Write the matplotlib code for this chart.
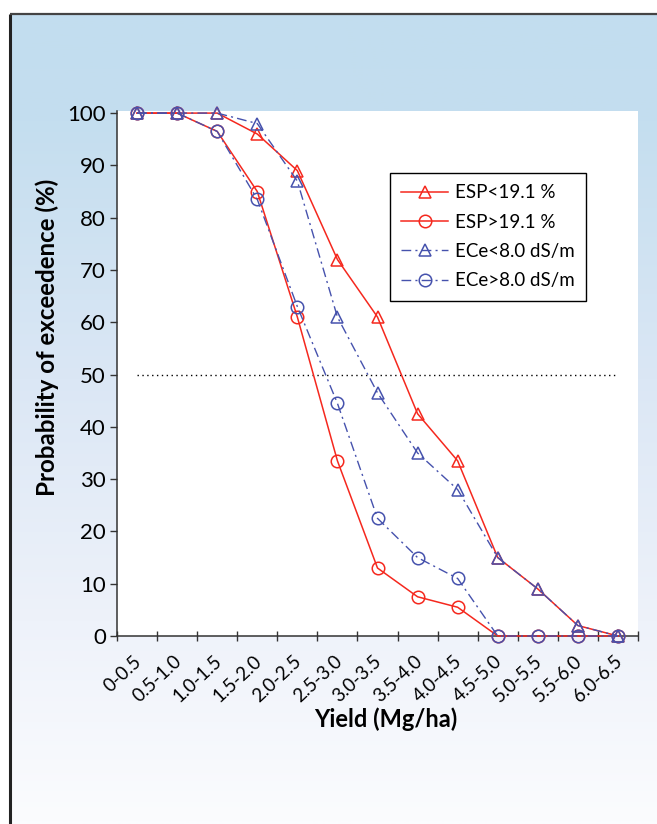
import numpy as np
import matplotlib
matplotlib.use("Agg")
import matplotlib.pyplot as plt
from matplotlib.colors import LinearSegmentedColormap
from matplotlib.transforms import ScaledTranslation

categories = ["0-0.5", "0.5-1.0", "1.0-1.5", "1.5-2.0", "2.0-2.5", "2.5-3.0", "3.0-3.5",
              "3.5-4.0", "4.0-4.5", "4.5-5.0", "5.0-5.5", "5.5-6.0", "6.0-6.5"]
esp_low = [100, 100, 100, 96, 89, 72, 61, 42.5, 33.5, 15, 9, 2, 0]
esp_high = [100, 100, 96.5, 85, 61, 33.5, 13, 7.5, 5.5, 0, 0, 0, 0]
ece_low = [100, 100, 100, 98, 87, 61, 46.5, 35, 28, 15, 9, 2, 0]
ece_high = [100, 100, 96.5, 83.5, 63, 44.5, 22.5, 15, 11, 0, 0, 0, 0]
threshold = 50
yticks = [0, 10, 20, 30, 40, 50, 60, 70, 80, 90, 100]

W, H = 657, 824
fig = plt.figure(figsize=(W / 100, H / 100), dpi=100)
fig.patch.set_facecolor("white")

# background panel with vertical gradient
bg = fig.add_axes([0, 0, 1, 1])
bg.set_xlim(0, W)
bg.set_ylim(H, 0)
bg.axis("off")
cmap = LinearSegmentedColormap.from_list(
    "bg", [(0.0, "#c2ddef"), (0.13, "#c4deef"), (0.45, "#dbe7f5"), (0.75, "#eef2fa"), (1.0, "#fbfcfe")])
grad = np.linspace(0, 1, 400).reshape(-1, 1)
bg.imshow(grad, cmap=cmap, extent=[10, W, H, 14], aspect="auto", zorder=0)
bg.plot([10, 10], [H, 14], color="#222222", lw=2.2, zorder=2, solid_capstyle="butt")
bg.plot([10, W], [14, 14], color="#444444", lw=1.6, zorder=2, solid_capstyle="butt")

font = "Lato"
plt.rcParams["font.family"] = [font, "DejaVu Sans"]

ax_l, ax_r, ax_t, ax_b = 117, 638, 111, 636
ax = fig.add_axes([ax_l / W, (H - ax_b) / H, (ax_r - ax_l) / W, (ax_b - ax_t) / H])
ax.set_facecolor("white")
x = np.arange(len(categories)) + 0.5

red = "#f5281e"
blue = "#4652ad"
ms = 9
dashdot = (0, (7, 3, 1.5, 3))
ax.plot(x, esp_low, color=red, lw=1.1, marker="^", ms=ms, mfc="none", mec=red, mew=1.1,
        label="ESP<19.1 %", zorder=3, clip_on=False)
ax.plot(x, esp_high, color=red, lw=1.1, marker="o", ms=ms, mfc="none", mec=red, mew=1.1,
        label="ESP>19.1 %", zorder=3, clip_on=False)
ax.plot(x, ece_low, color=blue, lw=1.0, ls=dashdot, marker="^", ms=ms, mfc="none",
        mec=blue, mew=1.1, label="ECe<8.0 dS/m", zorder=4, clip_on=False)
ax.plot(x, ece_high, color=blue, lw=1.0, ls=dashdot, marker="o", ms=ms, mfc="none",
        mec=blue, mew=1.1, label="ECe>8.0 dS/m", zorder=4, clip_on=False)
ax.plot([x[0], x[-1]], [threshold, threshold], color="black", lw=1.0, ls=(0, (1, 2.5)), zorder=2)

ax.set_xlim(0, len(categories))
ax.set_ylim(0, 100.4)
ax.set_yticks(yticks)
ax.set_yticklabels([str(v) for v in yticks], fontsize=16)
ax.set_xticks(np.arange(len(categories) + 1))
ax.set_xticklabels([])
ax.set_xticks(x, minor=True)
ax.set_xticklabels(categories, minor=True, rotation=43, ha="right", va="top",
                   rotation_mode="anchor", fontsize=13.5)
ax.tick_params(axis="x", which="minor", length=0, pad=12)
ax.tick_params(axis="x", which="major", length=7, width=1, direction="inout", color="#333333")
ax.tick_params(axis="y", length=5, width=1, direction="out", color="#333333", pad=3)
shift = ScaledTranslation(-4 / 100, 0, fig.dpi_scale_trans)
for lab in ax.get_xticklabels(minor=True):
    lab.set_transform(lab.get_transform() + shift)
for s in ["top", "right"]:
    ax.spines[s].set_visible(False)
for s in ["left", "bottom"]:
    ax.spines[s].set_color("#333333")
    ax.spines[s].set_linewidth(1.1)

fig.text(47 / W, 1 - 337 / H, "Probability of exceedence (%)", rotation=90, ha="center", va="center",
         fontsize=17.4, fontweight="bold")
fig.text(386 / W, 1 - 719 / H, "Yield (Mg/ha)", ha="center", va="center", fontsize=17, fontweight="bold")

leg = ax.legend(loc="upper left", bbox_to_anchor=((390 - ax_l) / (ax_r - ax_l), 1 - (173 - ax_t) / (ax_b - ax_t)),
                fontsize=13.5, frameon=True, fancybox=False, edgecolor="black", framealpha=1,
                handlelength=2.5, handletextpad=0.35, borderpad=0.6, labelspacing=0.66, borderaxespad=0)
leg.get_frame().set_linewidth(1.0)

fig.savefig("out.png", dpi=100)
